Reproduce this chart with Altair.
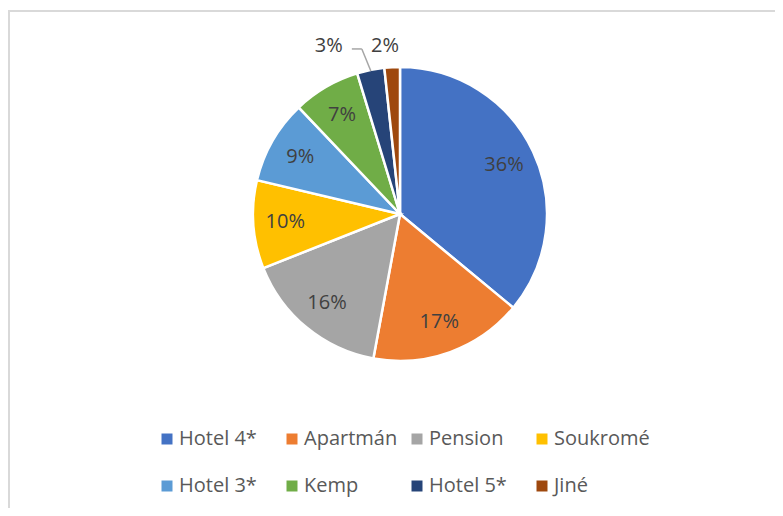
import altair as alt
import pandas as pd

categories = ["Hotel 4*", "Apartmán", "Pension", "Soukromé", "Hotel 3*", "Kemp", "Hotel 5*", "Jiné"]
shares = [36.0, 16.9, 16.1, 9.7, 9.2, 7.4, 3.0, 1.7]
colors = ["#4472C4", "#ED7D31", "#A5A5A5", "#FFC000", "#5B9BD5", "#70AD47", "#264478", "#9E480E"]

df = pd.DataFrame({"cat": categories, "value": shares, "order": list(range(len(categories)))})

W, H = 767, 500
CX, CY, R = 392, 206, 147
FONT = "Open Sans"

base = alt.Chart(df).transform_calculate(label="format(datum.value, '.0f') + '%'")

theta = alt.Theta("value:Q", stack=True)
order = alt.Order("order:Q")

color = alt.Color(
    "cat:N",
    scale=alt.Scale(domain=categories, range=colors),
    sort=categories,
    legend=alt.Legend(
        title=None, orient="none", legendX=149, legendY=421, direction="horizontal",
        columns=4, symbolType="square", symbolSize=121, labelFont=FONT, labelFontSize=20,
        labelColor="#595959", labelOffset=2, columnPadding=7, rowPadding=27,
        gridAlign="all", padding=0, symbolStrokeWidth=0, labelLimit=300,
    ),
)

pie = base.mark_arc(radius=R, stroke="white", strokeWidth=2.5).encode(
    theta=theta, color=color, order=order, x=alt.value(CX), y=alt.value(CY)
)

def text_layer(expr, radius, dx=0):
    return base.transform_calculate(txt=expr).mark_text(
        radius=radius, dx=dx, font=FONT, fontSize=20, color="#404040",
        align="center", baseline="middle",
    ).encode(theta=theta, order=order, detail="cat:N", text="txt:N",
             x=alt.value(CX), y=alt.value(CY))

main_labels = text_layer("datum.value >= 5 ? datum.label : ''", 115)
lab_h5 = text_layer("datum.cat == 'Hotel 5*' ? datum.label : ''", 171, -37)
lab_j = text_layer("datum.cat == 'Jiné' ? datum.label : ''", 168, -6)

leader_base = (
    alt.Chart(df)
    .transform_window(cum="sum(value)", sort=[alt.SortField("order")], frame=[None, 0])
    .transform_joinaggregate(total="sum(value)")
    .transform_calculate(a="2*PI*(datum.cum - datum.value/2)/datum.total")
    .transform_filter("datum.cat == 'Hotel 5*'")
    .transform_calculate(
        x_end=f"{CX} + {R - 1}*sin(datum.a)",
        y_end=f"{CY} - {R - 1}*cos(datum.a)",
    )
    .transform_calculate(x_elb="datum.x_end - 9", y_elb="datum.y_end - 22")
    .transform_calculate(x_tail="datum.x_elb - 10")
)
seg1 = leader_base.mark_rule(color="#A6A6A6", strokeWidth=1.5).encode(
    x=alt.X("x_end:Q", scale=None, axis=None), y=alt.Y("y_end:Q", scale=None, axis=None),
    x2="x_elb:Q", y2="y_elb:Q",
)
seg2 = leader_base.mark_rule(color="#A6A6A6", strokeWidth=1.5).encode(
    x=alt.X("x_elb:Q", scale=None, axis=None), x2="x_tail:Q",
    y=alt.Y("y_elb:Q", scale=None, axis=None),
)

one = alt.Chart(df).transform_filter("datum.order == 0")
border_top = one.mark_rule(color="#D9D9D9", strokeWidth=2).encode(
    x=alt.value(0), x2=alt.value(W), y=alt.value(3)
)
border_left = one.mark_rule(color="#D9D9D9", strokeWidth=2).encode(
    x=alt.value(1), y=alt.value(3), y2=alt.value(H)
)

chart = alt.layer(border_top, border_left, pie, main_labels, lab_h5, lab_j, seg1, seg2).properties(
    width=W, height=H, autosize=alt.AutoSizeParams(type="none"), padding=0
).configure_view(stroke=None)

chart.save("out.html", embed_options={"renderer": "svg", "actions": False})
